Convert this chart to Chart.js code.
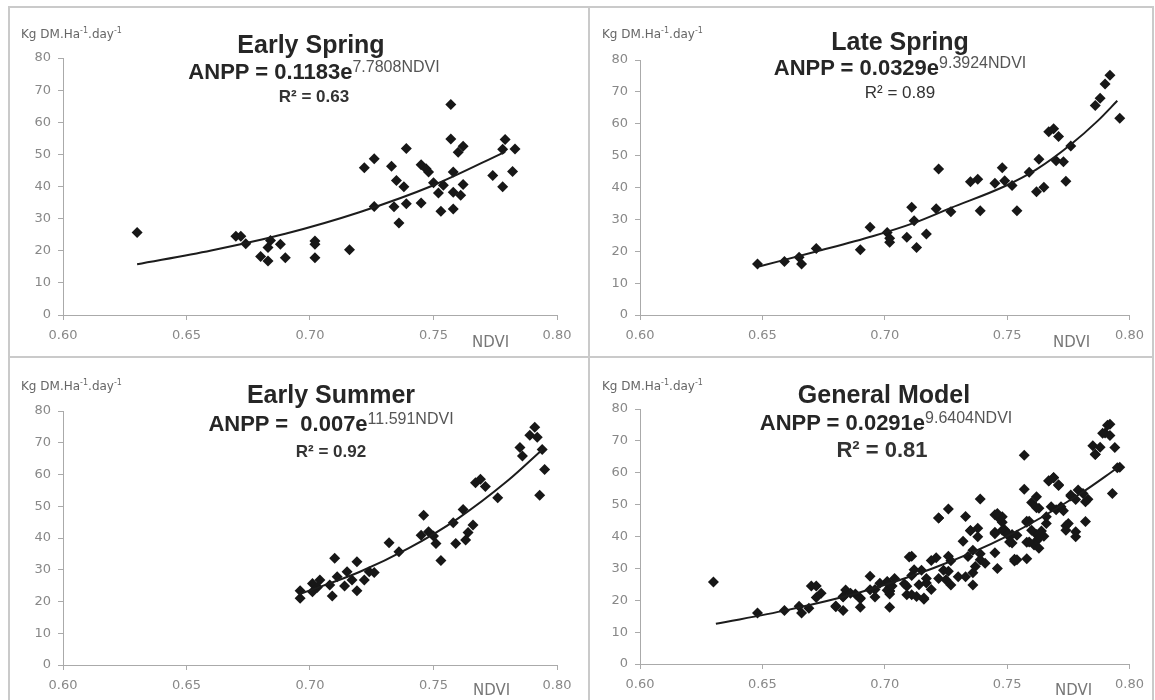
<!DOCTYPE html>
<html>
<head>
<meta charset="utf-8">
<script src="https://cdn.jsdelivr.net/npm/chart.js@4.4.0/dist/chart.umd.min.js"></script>
<style>
  body { margin: 0; background: #fff; width: 1155px; height: 700px; overflow: hidden; position: relative;
         font-family: "Liberation Sans", Arial, sans-serif; }
  .line { position: absolute; background: #cacaca; }
  canvas { position: absolute; }
  .t { position: absolute; white-space: nowrap; line-height: 1; transform: translateX(-50%); color: #262626; }
  .title { font-size: 25px; font-weight: bold; }
  .eq { font-size: 22px; font-weight: bold; }
  .eq span { font-size: 16px; font-weight: normal; color: #555; position: relative; top: -7px; }
  .r2 { font-size: 17px; font-weight: bold; color: #333; }
  .unit { position: absolute; font-family: "DejaVu Sans", sans-serif; font-size: 12px; color: #666; white-space: nowrap; line-height: 1; }
  .unit sup { font-size: 8px; }
  .ndvi { position: absolute; font-family: "DejaVu Sans", sans-serif; font-size: 15px; color: #777; line-height: 1; }
</style>
</head>
<body>
<div class="line" style="left:8px;top:6px;width:1146px;height:2px"></div>
<div class="line" style="left:8px;top:6px;width:2px;height:700px"></div>
<div class="line" style="left:1152px;top:6px;width:2px;height:700px"></div>
<div class="line" style="left:588px;top:6px;width:2px;height:700px"></div>
<div class="line" style="left:8px;top:356px;width:1146px;height:2px"></div>

<canvas id="c1" width="578" height="348" style="left:10px;top:8px"></canvas>
<canvas id="c2" width="562" height="348" style="left:590px;top:8px"></canvas>
<canvas id="c3" width="578" height="342" style="left:10px;top:358px"></canvas>
<canvas id="c4" width="562" height="342" style="left:590px;top:358px"></canvas>

<div class="unit" style="left:21px;top:27px">Kg DM.Ha<sup>-1</sup>.day<sup>-1</sup></div>
<div class="t title" style="left:311px;top:32px">Early Spring</div>
<div class="t eq" style="left:314px;top:61px">ANPP = 0.1183e<span>7.7808NDVI</span></div>
<div class="t r2" style="left:314px;top:88px">R² = 0.63</div>
<div class="ndvi" style="left:472px;top:335px">NDVI</div>

<div class="unit" style="left:602px;top:27px">Kg DM.Ha<sup>-1</sup>.day<sup>-1</sup></div>
<div class="t title" style="left:900px;top:29px">Late Spring</div>
<div class="t eq" style="left:900px;top:57px">ANPP = 0.0329e<span>9.3924NDVI</span></div>
<div class="t r2" style="left:900px;top:84px;font-weight:normal">R² = 0.89</div>
<div class="ndvi" style="left:1053px;top:335px">NDVI</div>

<div class="unit" style="left:21px;top:379px">Kg DM.Ha<sup>-1</sup>.day<sup>-1</sup></div>
<div class="t title" style="left:331px;top:382px">Early Summer</div>
<div class="t eq" style="left:331px;top:413px">ANPP =&nbsp; 0.007e<span>11.591NDVI</span></div>
<div class="t r2" style="left:331px;top:443px">R² = 0.92</div>
<div class="ndvi" style="left:473px;top:683px">NDVI</div>

<div class="unit" style="left:602px;top:379px">Kg DM.Ha<sup>-1</sup>.day<sup>-1</sup></div>
<div class="t title" style="left:884px;top:382px">General Model</div>
<div class="t eq" style="left:886px;top:412px">ANPP = 0.0291e<span>9.6404NDVI</span></div>
<div class="t r2" style="left:882px;top:439px;font-size:22px">R² = 0.81</div>
<div class="ndvi" style="left:1055px;top:683px">NDVI</div>

<script>
// NDVI, ANPP pairs
const earlySpring = [
  [0.630,25.7],[0.670,24.5],[0.672,24.5],[0.674,22.2],[0.680,18.2],[0.683,16.8],[0.683,21.0],
  [0.684,23.2],[0.688,22.0],[0.690,17.8],[0.702,23.0],[0.702,22.0],[0.702,17.8],[0.716,20.3],
  [0.722,45.8],[0.726,48.6],[0.726,33.8],[0.733,46.3],[0.735,41.9],[0.734,33.7],[0.736,28.6],
  [0.738,39.9],[0.739,34.6],[0.739,51.8],[0.745,34.9],[0.745,46.8],[0.747,45.5],[0.748,44.5],
  [0.750,41.2],[0.752,38.0],[0.754,40.4],[0.753,32.3],[0.757,65.5],[0.757,54.8],[0.758,44.5],
  [0.758,38.2],[0.758,33.0],[0.760,50.7],[0.762,52.5],[0.762,40.6],[0.761,37.3],[0.774,43.4],
  [0.778,39.9],[0.779,54.6],[0.778,51.6],[0.783,51.7],[0.782,44.7]
];
const lateSpring = [
  [0.648,16.0],[0.659,16.8],[0.665,18.1],[0.666,16.0],[0.672,20.9],[0.690,20.5],[0.694,27.5],
  [0.701,25.9],[0.702,24.1],[0.702,22.8],[0.709,24.4],[0.711,33.8],[0.712,29.6],[0.713,21.2],
  [0.717,25.4],[0.721,33.3],[0.722,45.8],[0.727,32.4],[0.735,41.8],[0.738,42.6],[0.739,32.7],
  [0.745,41.3],[0.748,46.2],[0.749,42.1],[0.752,40.6],[0.754,32.7],[0.759,44.8],[0.763,48.9],
  [0.762,38.7],[0.765,40.1],[0.767,57.5],[0.769,58.4],[0.771,56.0],[0.770,48.4],[0.773,48.1],
  [0.774,42.0],[0.776,53.0],[0.786,65.7],[0.788,68.0],[0.790,72.5],[0.792,75.2],[0.796,61.7]
];
const earlySummer = [
  [0.696,21.0],[0.696,23.4],[0.701,23.1],[0.701,25.7],[0.703,24.5],[0.704,26.8],[0.708,25.2],
  [0.709,21.7],[0.710,33.6],[0.711,27.8],[0.714,24.9],[0.715,29.4],[0.717,26.8],[0.719,23.4],
  [0.719,32.5],[0.722,26.8],[0.724,29.4],[0.726,29.1],[0.732,38.5],[0.736,35.7],[0.746,47.2],
  [0.745,40.9],[0.748,42.0],[0.750,40.6],[0.751,38.3],[0.753,32.9],[0.758,44.8],[0.759,38.3],
  [0.762,49.0],[0.763,39.4],[0.764,41.7],[0.766,44.1],[0.767,57.4],[0.769,58.5],[0.771,56.2],
  [0.776,52.7],[0.785,68.5],[0.786,65.8],[0.789,72.4],[0.791,74.9],[0.792,71.7],[0.794,67.9],
  [0.793,53.5],[0.795,61.6]
];
// points of the general model that are not in the three seasonal panels
const generalExtra = [
  [0.746,30.0],[0.727,24.8],[0.736,24.8],[0.725,26.4],[0.730,27.4],[0.733,27.4],[0.737,30.6],
  [0.741,31.6],[0.711,21.7],[0.716,20.7],[0.760,42.0],[0.763,36.3],[0.766,46.2],[0.768,49.3],
  [0.772,49.3],[0.775,44.1],[0.778,41.5],[0.782,50.9],[0.781,53.5],[0.698,25.3],[0.694,23.3],
  [0.680,18.0],[0.683,21.2],[0.686,22.2],[0.690,20.7],[0.669,17.5]
];
const generalModel = earlySpring.concat(lateSpring, earlySummer, generalExtra);

// trend lines
const earlySpringFit = [[0.630,15.8],[0.660,20.1],[0.690,25.3],[0.720,32.0],[0.750,40.4],[0.779,50.8]];
const lateSpringFit = [[0.649,15.3],[0.672,19.9],[0.695,24.7],[0.712,28.9],[0.727,33.6],
                       [0.749,40.4],[0.762,45.7],[0.776,53.5],[0.787,60.9],[0.795,67.2]];
const earlySummerFit = [[0.696,22.4],[0.720,29.3],[0.740,36.8],[0.760,46.2],[0.780,58.0],[0.794,67.8]];
const generalFit = [[0.631,12.6],[0.660,16.9],[0.690,22.5],[0.720,30.1],[0.750,40.1],[0.780,53.5],[0.795,61.5]];

const xTicks = [0.60, 0.65, 0.70, 0.75, 0.80];
const yTicks = [0, 10, 20, 30, 40, 50, 60, 70, 80];

const tickFont = { family: "DejaVu Sans", size: 13 };

function toXY(arr) {
  return arr.map(function (p) { return { x: p[0], y: p[1] }; });
}

// area = plot box in page pixels
function makePanel(id, pts, fit, area) {
  const cv = document.getElementById(id);
  const left = parseInt(cv.style.left), top = parseInt(cv.style.top);
  const yW = area.l - left;
  const xH = top + cv.height - area.b;
  new Chart(cv, {
    type: "scatter",
    data: {
      datasets: [
        {
          data: toXY(fit), showLine: true, borderColor: "#1c1c1c", borderWidth: 2,
          pointRadius: 0, cubicInterpolationMode: "monotone", order: 0, clip: false
        },
        {
          data: toXY(pts), pointStyle: "rectRot", pointRadius: 5.5, backgroundColor: "#171717",
          borderWidth: 0, order: 1, clip: false
        }
      ]
    },
    options: {
      responsive: false,
      animation: false,
      events: [],
      layout: { padding: { left: 0, top: area.t - top, right: left + cv.width - area.r, bottom: 0 } },
      plugins: { legend: { display: false }, tooltip: { enabled: false } },
      scales: {
        x: {
          type: "linear", min: xTicks[0], max: xTicks[xTicks.length - 1],
          afterFit: function (s) { s.height = xH; },
          afterBuildTicks: function (s) { s.ticks = xTicks.map(function (v) { return { value: v }; }); },
          ticks: { callback: function (v) { return v.toFixed(2); }, color: "#888", font: tickFont,
                   padding: 8, maxRotation: 0, autoSkip: false },
          grid: { drawOnChartArea: false, tickLength: 5, color: "#aaa" },
          border: { color: "#aaa" }
        },
        y: {
          min: yTicks[0], max: yTicks[yTicks.length - 1],
          afterFit: function (s) { s.width = yW; },
          afterBuildTicks: function (s) { s.ticks = yTicks.map(function (v) { return { value: v }; }); },
          ticks: { color: "#888", font: tickFont, padding: 7 },
          grid: { drawOnChartArea: false, tickLength: 5, color: "#aaa" },
          border: { color: "#aaa" }
        }
      }
    }
  });
}

makePanel("c1", earlySpring, earlySpringFit, { l: 63, t: 58, r: 557, b: 315 });
makePanel("c2", lateSpring, lateSpringFit, { l: 640, t: 60, r: 1133, b: 315 });
makePanel("c3", earlySummer, earlySummerFit, { l: 63, t: 411, r: 557, b: 665 });
makePanel("c4", generalModel, generalFit, { l: 640, t: 409, r: 1133, b: 664 });
</script>
</body>
</html>
